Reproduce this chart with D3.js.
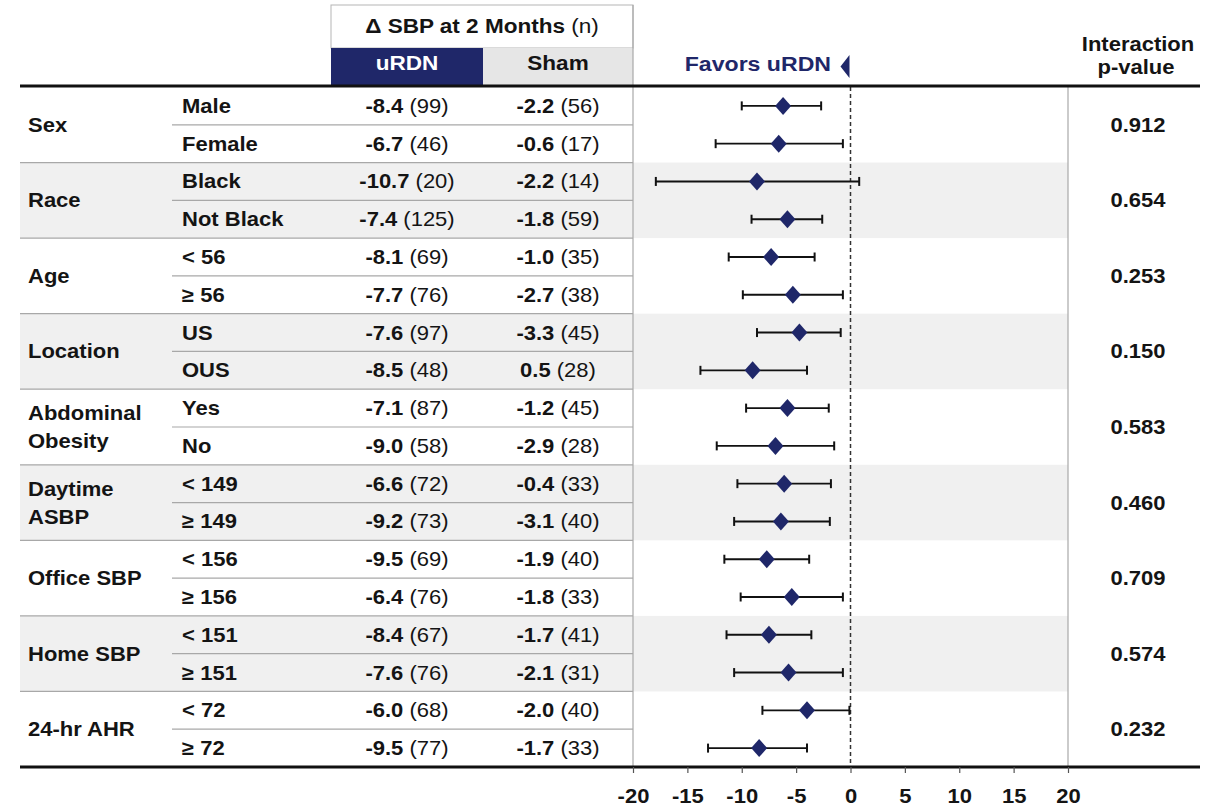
<!DOCTYPE html>
<html>
<head>
<meta charset="utf-8">
<script src="https://cdn.jsdelivr.net/npm/d3@7"></script>
<style>
  html, body { margin: 0; padding: 0; background: #fff; }
  svg { display: block; font-family: "Liberation Sans", Arial, sans-serif; }
</style>
</head>
<body>
<svg id="chart" width="1208" height="806"></svg>
<script>
// ---------------- DATA ----------------
const groups = ["Sex", "Race", "Age", "Location", "Abdominal\nObesity", "Daytime\nASBP", "Office SBP", "Home SBP", "24-hr AHR"];
const shadedGroups = [1, 3, 5, 7];
const subgroups = ["Male", "Female", "Black", "Not Black", "< 56", "≥ 56", "US", "OUS", "Yes", "No",
                   "< 149", "≥ 149", "< 156", "≥ 156", "< 151", "≥ 151", "< 72", "≥ 72"];
const urdnMean = [-8.4, -6.7, -10.7, -7.4, -8.1, -7.7, -7.6, -8.5, -7.1, -9.0, -6.6, -9.2, -9.5, -6.4, -8.4, -7.6, -6.0, -9.5];
const urdnN    = [99, 46, 20, 125, 69, 76, 97, 48, 87, 58, 72, 73, 69, 76, 67, 76, 68, 77];
const shamMean = [-2.2, -0.6, -2.2, -1.8, -1.0, -2.7, -3.3, 0.5, -1.2, -2.9, -0.4, -3.1, -1.9, -1.8, -1.7, -2.1, -2.0, -1.7];
const shamN    = [56, 17, 14, 59, 35, 38, 45, 28, 45, 28, 33, 40, 40, 33, 41, 31, 40, 33];
const diffEst  = [-6.2, -6.6, -8.6, -5.8, -7.3, -5.3, -4.7, -9.0, -5.8, -6.9, -6.1, -6.4, -7.7, -5.4, -7.5, -5.7, -4.0, -8.4];
const ciLower  = [-10.0, -12.4, -17.9, -9.1, -11.2, -9.9, -8.6, -13.8, -9.6, -12.3, -10.4, -10.7, -11.6, -10.1, -11.4, -10.7, -8.1, -13.1];
const ciUpper  = [-2.7, -0.7, 0.8, -2.6, -3.3, -0.7, -0.9, -4.0, -2.0, -1.5, -1.8, -1.9, -3.8, -0.7, -3.6, -0.7, -0.1, -4.0];
const pValues  = ["0.912", "0.654", "0.253", "0.150", "0.583", "0.460", "0.709", "0.574", "0.232"];
const axisTicks = [-20, -15, -10, -5, 0, 5, 10, 15, 20];

// ---------------- LAYOUT ----------------
const NAVY = "#1f2769";
const TXT = "#141414";
const SX = 1.1; // horizontal stretch of type in the reference
const FS = 20;

const svg = d3.select("#chart");
const tableTop = 87, tableBottom = 767;
const xLeft = 20, xSub = 172, xCol1 = 331, xCol2 = 483, xForestL = 633, xForestR = 1068, xRight = 1200;

const y = d3.scaleBand().domain(d3.range(subgroups.length)).range([tableTop, tableBottom]).padding(0);
const x = d3.scaleLinear().domain([-20, 20]).range([xForestL, xForestR]);
const rowMid = i => y(i) + y.bandwidth() / 2;

function addText(parent, px, py, parts, opts = {}) {
  const t = parent.append("text")
    .attr("transform", `translate(${px},${py}) scale(${SX},1)`)
    .attr("text-anchor", opts.anchor || "start")
    .attr("font-size", opts.size || FS)
    .attr("fill", opts.fill || TXT);
  parts.forEach(([s, w]) => t.append("tspan").attr("font-weight", w || "bold").text(s));
  return t;
}

// ---------- shaded bands ----------
shadedGroups.forEach(g => {
  svg.append("rect")
    .attr("x", xLeft).attr("y", y(g * 2))
    .attr("width", xForestR - xLeft).attr("height", y.bandwidth() * 2)
    .attr("fill", "#f0f0f0");
});

// ---------- header ----------
svg.append("rect").attr("x", xCol1).attr("y", 5).attr("width", xForestL - xCol1).attr("height", 43)
  .attr("fill", "#fff").attr("stroke", "#b5b5b5").attr("stroke-width", 1);
svg.append("rect").attr("x", xCol1).attr("y", 48).attr("width", xCol2 - xCol1).attr("height", tableTop - 48)
  .attr("fill", NAVY);
svg.append("rect").attr("x", xCol2).attr("y", 48).attr("width", xForestL - xCol2).attr("height", tableTop - 48)
  .attr("fill", "#e6e6e6");
addText(svg, (xCol1 + xForestL) / 2, 33, [["Δ SBP at 2 Months", "bold"], [" (n)", "normal"]], { anchor: "middle", size: 20.5 });
addText(svg, (xCol1 + xCol2) / 2, 70, [["uRDN"]], { anchor: "middle", fill: "#fff", size: 20.5 });
addText(svg, (xCol2 + xForestL) / 2, 70, [["Sham"]], { anchor: "middle", size: 20.5 });

addText(svg, 831, 71, [["Favors uRDN"]], { anchor: "end", fill: NAVY, size: 21 });
svg.append("path")
  .attr("d", `M${x(0) - 1},55 L${x(0) - 1},78 L${x(0) - 10},66.5 Z`)
  .attr("fill", NAVY);

addText(svg, 1138, 51, [["Interaction"]], { anchor: "middle" });
addText(svg, 1136, 74, [["p-value"]], { anchor: "middle" });

// ---------- row separators ----------
subgroups.forEach((s, i) => {
  if (i === 0) return;
  const isGroup = i % 2 === 0;
  svg.append("line")
    .attr("x1", isGroup ? xLeft : xSub).attr("x2", xForestL)
    .attr("y1", y(i)).attr("y2", y(i))
    .attr("stroke", "#a8a8a8").attr("stroke-width", 1.2);
});

// ---------- vertical borders ----------
svg.append("line").attr("x1", xForestL).attr("x2", xForestL).attr("y1", 5).attr("y2", tableBottom)
  .attr("stroke", "#a8a8a8").attr("stroke-width", 1.2);
svg.append("line").attr("x1", xForestR).attr("x2", xForestR).attr("y1", tableTop).attr("y2", tableBottom)
  .attr("stroke", "#a8a8a8").attr("stroke-width", 1.2);

// ---------- group labels ----------
groups.forEach((g, gi) => {
  const cy = y(gi * 2) + y.bandwidth();
  const lines = g.split("\n");
  lines.forEach((ln, li) => {
    const off = lines.length === 1 ? 0 : (li === 0 ? -14 : 14);
    addText(svg, 28, cy + off + 7, [[ln]]);
  });
});

// ---------- subgroup labels and numbers ----------
subgroups.forEach((s, i) => {
  const cy = rowMid(i) + 7;
  addText(svg, 182, cy, [[s]]);
  addText(svg, (xCol1 + xCol2) / 2, cy, [[urdnMean[i].toFixed(1), "bold"], [" (" + urdnN[i] + ")", "normal"]], { anchor: "middle" });
  addText(svg, (xCol2 + xForestL) / 2, cy, [[shamMean[i].toFixed(1), "bold"], [" (" + shamN[i] + ")", "normal"]], { anchor: "middle" });
});

// ---------- p-values ----------
pValues.forEach((p, gi) => {
  addText(svg, 1138, y(gi * 2) + y.bandwidth() + 7, [[p]], { anchor: "middle" });
});

// ---------- zero line ----------
svg.append("line").attr("x1", x(0)).attr("x2", x(0)).attr("y1", tableTop).attr("y2", tableBottom)
  .attr("stroke", "#333").attr("stroke-width", 1.5).attr("stroke-dasharray", "4,3");

// ---------- forest marks ----------
const marks = svg.append("g");
subgroups.forEach((s, i) => {
  const cy = rowMid(i);
  marks.append("line").attr("x1", x(ciLower[i])).attr("x2", x(ciUpper[i])).attr("y1", cy).attr("y2", cy)
    .attr("stroke", "#111").attr("stroke-width", 1.9);
  [ciLower[i], ciUpper[i]].forEach(v => {
    marks.append("line").attr("x1", x(v)).attr("x2", x(v)).attr("y1", cy - 4.5).attr("y2", cy + 4.5)
      .attr("stroke", "#111").attr("stroke-width", 2);
  });
  const cx = x(diffEst[i]);
  marks.append("path")
    .attr("d", `M${cx},${cy - 9} L${cx + 8},${cy} L${cx},${cy + 9} L${cx - 8},${cy} Z`)
    .attr("fill", NAVY);
});

// ---------- thick rules ----------
svg.append("line").attr("x1", xLeft).attr("x2", xRight).attr("y1", tableTop - 1).attr("y2", tableTop - 1)
  .attr("stroke", "#111").attr("stroke-width", 3);
svg.append("line").attr("x1", xLeft).attr("x2", xRight).attr("y1", tableBottom).attr("y2", tableBottom)
  .attr("stroke", "#111").attr("stroke-width", 3);

// ---------- axis ----------
const axis = svg.append("g").attr("transform", `translate(0,${tableBottom})`)
  .call(d3.axisBottom(x).tickValues(axisTicks).tickSize(6).tickFormat(d => String(d)));
axis.select(".domain").remove();
axis.selectAll(".tick line").attr("stroke", "#555").attr("stroke-width", 1.2);
axis.selectAll(".tick text")
  .attr("y", 36).attr("dy", null)
  .attr("transform", `scale(${SX},1)`)
  .attr("font-size", FS).attr("font-weight", "bold").attr("fill", TXT)
  .attr("font-family", "Liberation Sans, Arial, sans-serif");
</script>
</body>
</html>
